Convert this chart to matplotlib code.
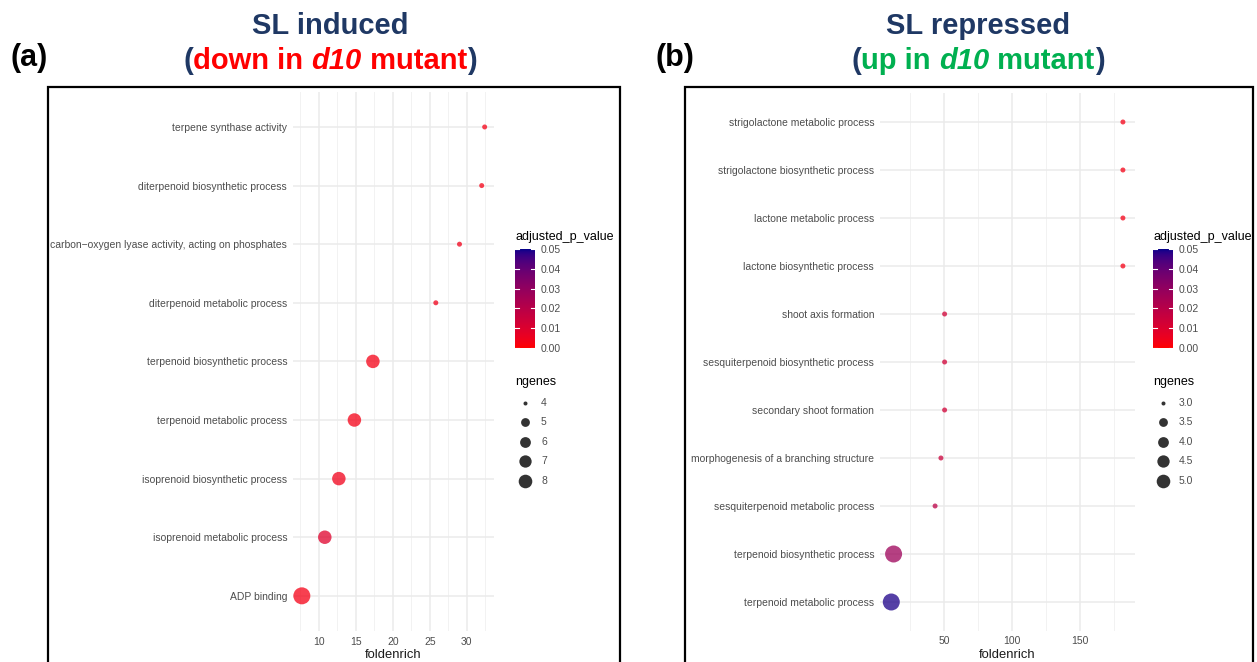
import numpy as np
import matplotlib
matplotlib.use("Agg")
import matplotlib.pyplot as plt
from matplotlib.colors import ListedColormap
from matplotlib.patches import Rectangle
from matplotlib.lines import Line2D

plt.rcParams['font.family'] = ['Liberation Sans', 'DejaVu Sans']

# ---------------- data ----------------
cats_a = ["terpene synthase activity", "diterpenoid biosynthetic process",
          "carbon\u2212oxygen lyase activity, acting on phosphates",
          "diterpenoid metabolic process", "terpenoid biosynthetic process",
          "terpenoid metabolic process", "isoprenoid biosynthetic process",
          "isoprenoid metabolic process", "ADP binding"]
fold_a = [32.4, 32.0, 29.0, 25.8, 17.3, 14.8, 12.7, 10.8, 7.7]
ngenes_a = [4, 4, 4, 4, 6, 6, 6, 6, 8]
padj_a = [0.003, 0.003, 0.004, 0.004, 0.003, 0.003, 0.004, 0.009, 0.003]
xticks_a = [10, 15, 20, 25, 30]
size_breaks_a = [4, 5, 6, 7, 8]
size_labels_a = ["4", "5", "6", "7", "8"]

cats_b = ["strigolactone metabolic process", "strigolactone biosynthetic process",
          "lactone metabolic process", "lactone biosynthetic process",
          "shoot axis formation", "sesquiterpenoid biosynthetic process",
          "secondary shoot formation", "morphogenesis of a branching structure",
          "sesquiterpenoid metabolic process", "terpenoid biosynthetic process",
          "terpenoid metabolic process"]
fold_b = [181.6, 181.6, 181.6, 181.6, 50.5, 50.5, 50.5, 47.8, 43.5, 13.0, 11.3]
ngenes_b = [3, 3, 3, 3, 3, 3, 3, 3, 3, 5, 5]
padj_b = [0.003, 0.003, 0.003, 0.003, 0.013, 0.013, 0.013, 0.015, 0.019, 0.027, 0.049]
xticks_b = [50, 100, 150]
size_breaks_b = [3.0, 3.5, 4.0, 4.5, 5.0]
size_labels_b = ["3.0", "3.5", "4.0", "4.5", "5.0"]

p_breaks = [0.00, 0.01, 0.02, 0.03, 0.04, 0.05]
p_labels = ["0.00", "0.01", "0.02", "0.03", "0.04", "0.05"]

# ---------------- colour scale (Lab gradient red -> darkblue) ----------------
def _srgb_to_lab(rgb):
    rgb = np.asarray(rgb, float)
    lin = np.where(rgb <= 0.04045, rgb / 12.92, ((rgb + 0.055) / 1.055) ** 2.4)
    M = np.array([[0.4124, 0.3576, 0.1805], [0.2126, 0.7152, 0.0722], [0.0193, 0.1192, 0.9505]])
    xyz = M @ lin
    wp = np.array([0.95047, 1.0, 1.08883])
    t = xyz / wp
    f = np.where(t > (6/29)**3, np.cbrt(t), t / (3*(6/29)**2) + 4/29)
    return np.array([116*f[1] - 16, 500*(f[0]-f[1]), 200*(f[1]-f[2])])

def _lab_to_srgb(lab):
    L, a, b = lab
    fy = (L + 16) / 116
    fx = fy + a / 500
    fz = fy - b / 200
    def finv(f):
        return np.where(f > 6/29, f**3, 3*(6/29)**2*(f - 4/29))
    wp = np.array([0.95047, 1.0, 1.08883])
    xyz = np.array([finv(fx), finv(fy), finv(fz)]) * wp
    Minv = np.array([[3.2406, -1.5372, -0.4986], [-0.9689, 1.8758, 0.0415], [0.0557, -0.2040, 1.0570]])
    lin = Minv @ xyz
    lin = np.clip(lin, 0, 1)
    rgb = np.where(lin <= 0.0031308, 12.92*lin, 1.055*lin**(1/2.4) - 0.055)
    return np.clip(rgb, 0, 1)

lo = _srgb_to_lab([1.0, 0.0, 0.0])
hi = _srgb_to_lab([0.0, 0.0, 139/255])
cols = [_lab_to_srgb(lo + (hi - lo) * t) for t in np.linspace(0, 1, 256)]
cmap = ListedColormap(cols)
PMIN, PMAX = 0.0, 0.05

def diam_px(n, nmin, nmax):
    s = 1 + 5*np.sqrt((np.asarray(n, float) - nmin) / (nmax - nmin))
    return 2.6 + 2.4*s

W, H = 1257, 662
fig = plt.figure(figsize=(W/100, H/100), dpi=100)
GRAY = "#4D4D4D"

def px_axes(x0, y0, x1, y1):
    return fig.add_axes([x0/W, 1 - y1/H, (x1-x0)/W, (y1-y0)/H])

def panel(ax, cats, fold, ngenes, padj, xticks):
    n = len(cats)
    ypos = np.arange(n)
    rng = max(fold) - min(fold)
    ax.set_xlim(min(fold) - 0.05*rng, max(fold) + 0.05*rng)
    ax.set_ylim(n - 1 + 0.6, -0.6)
    d = diam_px(ngenes, min(ngenes), max(ngenes)) * 0.72
    order = np.argsort(d)[::-1]
    ax.scatter(np.asarray(fold)[order], ypos[order], s=(d**2)[order],
               c=np.asarray(padj)[order], cmap=cmap, vmin=PMIN, vmax=PMAX,
               alpha=0.75, linewidths=0, zorder=3)
    ax.set_yticks(ypos)
    ax.set_yticklabels(cats)
    ax.set_xticks(xticks)
    minors = [xticks[0] - (xticks[1]-xticks[0])/2] + [t + (xticks[1]-xticks[0])/2 for t in xticks]
    ax.set_xticks(minors, minor=True)
    ax.grid(which='major', color='#EBEBEB', lw=1.1, zorder=0)
    ax.grid(which='minor', axis='x', color='#F2F2F2', lw=0.7, zorder=0)
    ax.set_axisbelow(True)
    for s in ax.spines.values():
        s.set_visible(False)
    ax.tick_params(which='both', length=0, labelsize=7.5, labelcolor=GRAY, pad=4)
    ax.set_xlabel("foldenrich", fontsize=9.4, color="#1A1A1A", labelpad=2)

ax_a = px_axes(292.7, 91.8, 493.8, 631.0)
panel(ax_a, cats_a, fold_a, ngenes_a, padj_a, xticks_a)
ax_b = px_axes(879.7, 93.2, 1134.5, 630.8)
panel(ax_b, cats_b, fold_b, ngenes_b, padj_b, xticks_b)

def legends(x0, breaks, labels, nmin, nmax):
    fig.text(x0/W, 1 - 237/H, "adjusted_p_value", fontsize=9, ha='left', va='center', color='black')
    cax = px_axes(x0, 249, x0 + 20, 348)
    grad = np.linspace(PMIN, PMAX, 256).reshape(-1, 1)
    cax.imshow(grad, cmap=cmap, vmin=PMIN, vmax=PMAX, aspect='auto', origin='lower',
               extent=[0, 1, PMIN, PMAX])
    cax.set_xlim(0, 1)
    cax.set_ylim(PMIN, PMAX)
    for p in p_breaks:
        cax.plot([0, 0.2], [p, p], color='white', lw=0.8)
        cax.plot([0.8, 1], [p, p], color='white', lw=0.8)
    cax.set_xticks([])
    cax.yaxis.tick_right()
    cax.set_yticks(p_breaks)
    cax.set_yticklabels(p_labels)
    cax.tick_params(length=0, labelsize=7.5, labelcolor=GRAY, pad=4)
    for s in cax.spines.values():
        s.set_visible(False)
    fig.text(x0/W, 1 - 382/H, "ngenes", fontsize=9, ha='left', va='center', color='black')
    dd = diam_px(breaks, nmin, nmax) * 0.8 * 0.72
    for i, (b, lab) in enumerate(zip(breaks, labels)):
        y = 402.5 + 19.6*i
        fig.add_artist(Line2D([(x0 + 10)/W], [1 - y/H], marker='o', markersize=dd[i],
                              markerfacecolor='black', markeredgewidth=0, alpha=0.8,
                              linestyle='none', transform=fig.transFigure))
        fig.text((x0 + 26)/W, 1 - y/H, lab, fontsize=7.5, ha='left', va='center', color=GRAY)

legends(515, size_breaks_a, size_labels_a, min(ngenes_a), max(ngenes_a))
legends(1153, size_breaks_b, size_labels_b, min(ngenes_b), max(ngenes_b))

# frames
for x0, x1 in [(48, 620), (685, 1253)]:
    fig.add_artist(Rectangle((x0/W, -0.05), (x1-x0)/W, 1 - 87/H + 0.05, transform=fig.transFigure,
                             fill=False, edgecolor='black', lw=1.6))

# titles
NAVY = "#1F3864"
renderer = fig.canvas.get_renderer()

def rich_line(pieces, cx, base_y, size):
    texts = []
    for s, color, style in pieces:
        t = fig.text(0, 1 - base_y/H, s, color=color, fontsize=size, fontweight='bold',
                     style=style, ha='left', va='baseline')
        texts.append(t)
    ws = [t.get_window_extent(renderer).width for t in texts]
    total = sum(ws)
    x = cx - total/2
    for t, w in zip(texts, ws):
        t.set_x(x / W)
        x += w

def title_block(cx, line1, color, word, baseline1, baseline2, size=21):
    fig.text(cx/W, 1 - baseline1/H, line1, color=NAVY, fontsize=size, fontweight='bold',
             ha='center', va='baseline')
    pieces = [("(", NAVY, 'normal'), (word + " in ", color, 'normal'),
              ("d10", color, 'italic'), (" mutant", color, 'normal'), (")", NAVY, 'normal')]
    rich_line(pieces, cx, baseline2, size)

title_block(330, "SL induced", "#FF0000", "down", 34, 69)
title_block(978, "SL repressed", "#00B050", "up", 34, 69)

fig.text(10/W, 1 - 66/H, "(a)", fontsize=22, fontweight='bold', ha='left', va='baseline', color='black')
fig.text(655/W, 1 - 66/H, "(b)", fontsize=22, fontweight='bold', ha='left', va='baseline', color='black')

fig.savefig("out.png", dpi=100)
